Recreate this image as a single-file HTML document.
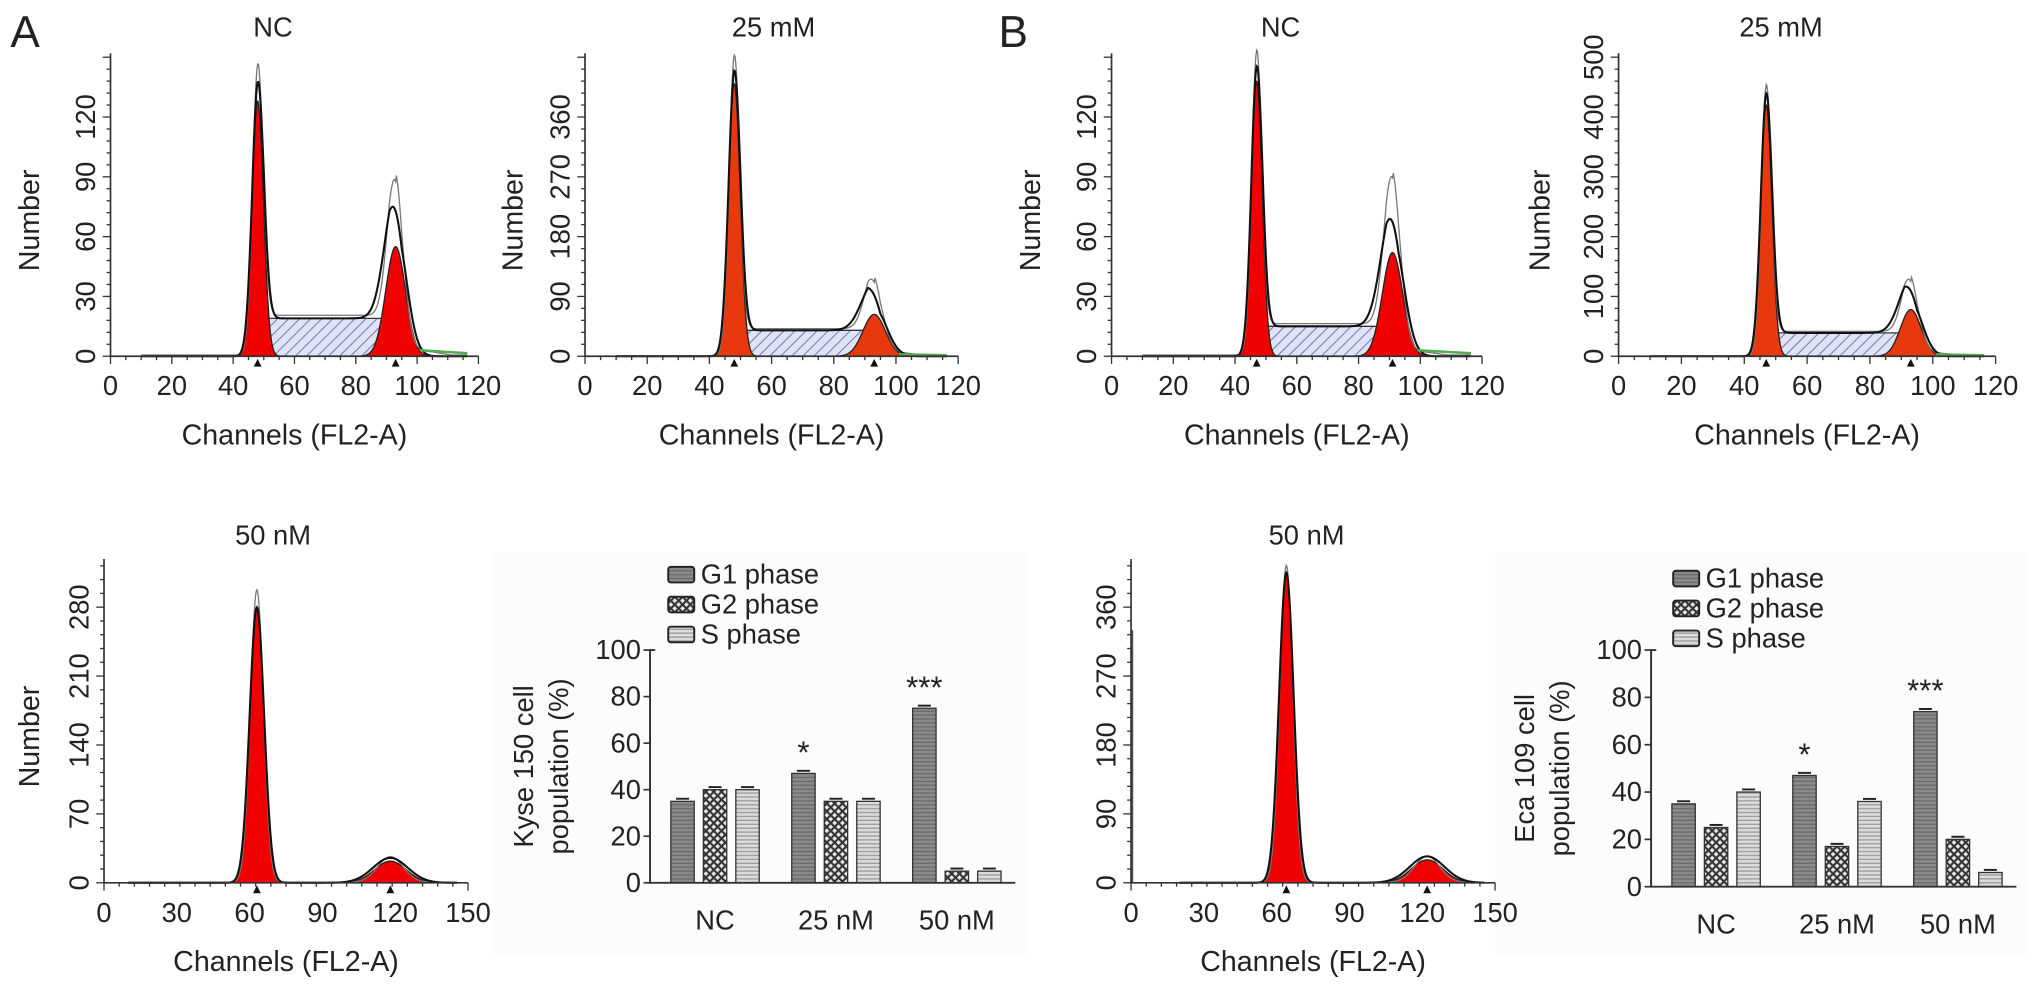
<!DOCTYPE html>
<html><head><meta charset="utf-8"><style>
html,body{margin:0;padding:0;background:#fff}
svg{display:block}
text{font-family:"Liberation Sans",Arial,sans-serif;fill:#222}
</style></head><body>
<svg id="fig" width="2032" height="992" viewBox="0 0 1563 763" preserveAspectRatio="none" xmlns="http://www.w3.org/2000/svg">
<defs>
<pattern id="hatchS" width="6" height="6" patternUnits="userSpaceOnUse" patternTransform="rotate(45)"><rect width="6" height="6" fill="#dfe3f5"/><line x1="0" y1="0" x2="0" y2="6" stroke="#5a64b0" stroke-width="1.3"/></pattern>
<pattern id="pG1" width="4" height="3" patternUnits="userSpaceOnUse"><rect width="4" height="3" fill="#8a8a8a"/><line x1="0" y1="1" x2="4" y2="1" stroke="#6a6a6a" stroke-width="1"/></pattern>
<pattern id="pG2" width="6" height="6" patternUnits="userSpaceOnUse"><rect width="6" height="6" fill="#e8e8e8"/><path d="M0,0L6,6M6,0L0,6" stroke="#333" stroke-width="1.6"/></pattern>
<pattern id="pS" width="4" height="3" patternUnits="userSpaceOnUse"><rect width="4" height="3" fill="#dcdcdc"/><line x1="0" y1="1" x2="4" y2="1" stroke="#9a9a9a" stroke-width="1"/></pattern>
</defs>
<rect x="380" y="425" width="410" height="310" fill="#fcfcfc"/>
<rect x="1150" y="425" width="410" height="310" fill="#fcfcfc"/>
<text x="8" y="36" font-size="34">A</text>
<text x="768" y="36" font-size="34">B</text>
<g id="root"></g>
</svg>
<script>
// ---- histogram data: [mu, height, sigma] in data units ----
const hA_NC_g1=[48,128,1.9], hA_NC_g2=[93,55,3.2], hA_NC_s=19, hA_NC_raw=[136,77];
const hA_25_g1=[48,410,1.9], hA_25_g2=[93,63,3.6], hA_25_s=39, hA_25_raw=[432,90];
const hB_NC_g1=[47,138,1.8], hB_NC_g2=[91,52,3.3], hB_NC_s=15, hB_NC_raw=[145,81];
const hB_25_g1=[47,420,1.8], hB_25_g2=[93,78,3.3], hB_25_s=39, hB_25_raw=[433,104];
const hA_50_g1=[63,280,3.0], hA_50_g2=[118,22,6.5], hA_50_s=0, hA_50_raw=[297,26];
const hB_50_g1=[64,405,3.0], hB_50_g2=[122,30,6.5], hB_50_s=0, hB_50_raw=[414,34];
// ---- bar chart data ----
const barCats=["NC","25 nM","50 nM"];
const barSeries=["G1 phase","G2 phase","S phase"];
const kyseG1=[35,47,75], kyseG2=[40,35,5], kyseS=[40,35,5];
const ecaG1=[35,47,74], ecaG2=[25,17,20], ecaS=[40,36,6];
const barTicks=[0,20,40,60,80,100];
const kyseStars=["","*","***"], ecaStars=["","*","***"];

const NS="http://www.w3.org/2000/svg";
const root=document.getElementById('root');
function el(tag,attrs,parent){const e=document.createElementNS(NS,tag);for(const k in attrs)e.setAttribute(k,attrs[k]);(parent||root).appendChild(e);return e;}
function txt(s,x,y,size,anchor,parent,rot){const t=el('text',{x:x,y:y,'font-size':size,'text-anchor':anchor||'middle'},parent);if(rot)t.setAttribute('transform','rotate(-90 '+x+' '+y+')');t.textContent=s;return t;}
function gauss(c,p){return p[1]*Math.exp(-0.5*Math.pow((c-p[0])/p[2],2));}

function hist(cfg){
  const g=el('g',{});
  
  
  const X=c=>cfg.x0+c*(cfg.x1-cfg.x0)/cfg.xmax;
  const Y=v=>cfg.y0-v*cfg.pxPer/cfg.ystep;
  const g1=cfg.g1,g2=cfg.g2,s=cfg.s;
  const sfun=c=>{if(!s)return 0;if(c<g1[0]-2||c>g2[0]+2)return 0;
    let v=s; if(c<g1[0]+2)v*= (c-(g1[0]-2))/4; if(c>g2[0]-2)v*=(g2[0]+2-c)/4; return Math.max(0,v);};
  const step=0.25;
  if(s){let d='M'+X(g1[0]-2)+','+Y(0);for(let c=g1[0]-2;c<=g2[0]+2;c+=step)d+='L'+X(c)+','+Y(sfun(c));d+='L'+X(g2[0]+2)+','+Y(0)+'Z';
    const p=el('path',{d:d,fill:'url(#hatchS)',stroke:'#333','stroke-width':1},g);}
  [[g1,'g1-peak',cfg.c1],[g2,'g2-peak',cfg.c2]].forEach(([p,n,col])=>{
    let d='M'+X(p[0]-4*p[2])+','+Y(0);for(let c=p[0]-4*p[2];c<=p[0]+4*p[2];c+=step/2)d+='L'+X(c)+','+Y(gauss(c,p));d+='L'+X(p[0]+4*p[2])+','+Y(0)+'Z';
    const e=el('path',{d:d,fill:col,stroke:'#222','stroke-width':1},g);
    const m=el('path',{d:'M'+(X(p[0])-3)+','+(cfg.y0+8)+'L'+(X(p[0])+3)+','+(cfg.y0+8)+'L'+X(p[0])+','+(cfg.y0+2)+'Z',fill:'#111'},g);
  });
  const r1=[g1[0],cfg.raw[0],g1[2]*0.9],r2=[g2[0],cfg.raw[1],g2[2]*0.8];
  let d='';for(let c=cfg.rawStart;c<=cfg.xmax*0.97;c+=step){const v=gauss(c,r1)+gauss(c,r2)+sfun(c)*1.05+(c>g2[0]&&s?s*0.25*Math.max(0,1-(c-g2[0])/18):0)+0.6;d+=(d?'L':'M')+X(c)+','+Y(v);}
  const rl=el('path',{d:d,fill:'none',stroke:'#777','stroke-width':1},g);
  d='';for(let c=cfg.rawStart;c<=cfg.xmax*0.97;c+=step){const v=gauss(c,g1)+gauss(c,[g2[0],g2[1]*1.15,g2[2]*1.1])+sfun(c);d+=(d?'L':'M')+X(c)+','+Y(v);}
  const fl=el('path',{d:d,fill:'none',stroke:'#111','stroke-width':1.6},g);
  if(s){const gl=el('path',{d:'M'+X(g2[0]+8)+','+Y(3)+'L'+X(cfg.xmax*0.97)+','+Y(1.5),stroke:'#5a5',fill:'none','stroke-width':2},g);}
  if(cfg.spike){const sp=el('line',{x1:X(0.5),x2:X(0.5),y1:cfg.y0,y2:Y(cfg.spike),stroke:'#555','stroke-width':1.5},g);}
  const ax=el('path',{d:'M'+cfg.x0+','+cfg.yTop+'L'+cfg.x0+','+cfg.y0+'L'+cfg.x1+','+cfg.y0,stroke:'#333',fill:'none','stroke-width':1.3},g);
  for(let c=0;c<=cfg.xmax;c+=cfg.xmax/24){const mj=Math.abs((c/cfg.xstep)-Math.round(c/cfg.xstep))<1e-6;el('line',{x1:X(c),x2:X(c),y1:cfg.y0,y2:cfg.y0+(mj?6:3),stroke:'#333','stroke-width':1},g);}
  for(let c=0;c<=cfg.xmax;c+=cfg.xstep){const t=txt(String(c),X(c),cfg.y0+30,21,'middle',g);}
  const ymaxPx=cfg.y0-cfg.yTop;
  for(let p=0;p<=ymaxPx;p+=cfg.pxPer/5){const mj=Math.abs(p/cfg.pxPer-Math.round(p/cfg.pxPer))<1e-6;el('line',{x1:cfg.x0,x2:cfg.x0-(mj?6:3),y1:cfg.y0-p,y2:cfg.y0-p,stroke:'#333','stroke-width':1},g);}
  for(let v=0;v<=cfg.ymaxLabel;v+=cfg.ystep){const t=txt(String(v),cfg.x0-12,Y(v),21,'middle',g,true);}
  const tt=txt(cfg.title,cfg.titleX,cfg.titleY,21,'middle',g);
  const xl=txt('Channels (FL2-A)',(cfg.x0+cfg.x1)/2,cfg.y0+68,22,'middle',g);
  if(cfg.ylab!==null){const yl=txt('Number',cfg.ylab,(cfg.y0+cfg.yTop)/2+12,22,'middle',g,true);}
}
const R='#f00000', O='#e8380e';
hist({name:'hist-a-nc',x0:85,x1:368,y0:274,yTop:41,xmax:120,xstep:20,ystep:30,ymaxLabel:120,pxPer:46,g1:hA_NC_g1,g2:hA_NC_g2,s:hA_NC_s,raw:hA_NC_raw,c1:R,c2:R,title:'NC',titleX:210,titleY:28,ylab:30,rawStart:10});
hist({name:'hist-a-25mm',x0:450,x1:737,y0:274,yTop:41,xmax:120,xstep:20,ystep:90,ymaxLabel:360,pxPer:46,g1:hA_25_g1,g2:hA_25_g2,s:hA_25_s,raw:hA_25_raw,c1:O,c2:O,title:'25 mM',titleX:595,titleY:28,ylab:402,rawStart:10});
hist({name:'hist-b-nc',x0:855,x1:1140,y0:274,yTop:41,xmax:120,xstep:20,ystep:30,ymaxLabel:120,pxPer:46,g1:hB_NC_g1,g2:hB_NC_g2,s:hB_NC_s,raw:hB_NC_raw,c1:R,c2:R,title:'NC',titleX:985,titleY:28,ylab:800,rawStart:10});
hist({name:'hist-b-25mm',x0:1245,x1:1535,y0:274,yTop:41,xmax:120,xstep:20,ystep:100,ymaxLabel:500,pxPer:46,g1:hB_25_g1,g2:hB_25_g2,s:hB_25_s,raw:hB_25_raw,c1:O,c2:O,title:'25 mM',titleX:1370,titleY:28,ylab:1192,rawStart:10});
hist({name:'hist-a-50nm',x0:80,x1:360,y0:679,yTop:430,xmax:150,xstep:30,ystep:70,ymaxLabel:280,pxPer:53,g1:hA_50_g1,g2:hA_50_g2,s:hA_50_s,raw:hA_50_raw,c1:R,c2:R,title:'50 nM',titleX:210,titleY:419,ylab:30,rawStart:10});
hist({name:'hist-b-50nm',x0:870,x1:1150,y0:679,yTop:430,xmax:150,xstep:30,ystep:90,ymaxLabel:360,pxPer:53,g1:hB_50_g1,g2:hB_50_g2,s:hB_50_s,raw:hB_50_raw,c1:R,c2:R,title:'50 nM',titleX:1005,titleY:419,ylab:null,rawStart:20,spike:330});

function bars(cfg){
  const g=el('g',{});
  
  
  const Y=v=>cfg.y0-v*(cfg.y0-cfg.y100)/100;
  const series=[cfg.g1,cfg.g2,cfg.s], fills=['url(#pG1)','url(#pG2)','url(#pS)'];
  const bw=18, gap=25, gw=93;
  barCats.forEach((cat,i)=>{
    const cx=cfg.cx0+i*gw;
    series.forEach((arr,j)=>{
      const x=cx+(j-1)*gap-bw/2;
      const b=el('rect',{x:x,y:Y(arr[i]),width:bw,height:cfg.y0-Y(arr[i]),fill:fills[j],stroke:'#333','stroke-width':1},g);
      
      
      el('path',{d:'M'+(x+4)+','+(Y(arr[i])-2)+'L'+(x+bw-4)+','+(Y(arr[i])-2),stroke:'#222','stroke-width':1.5},g);
    });
    const t=txt(cat,cx,cfg.y0+36,21,'middle',g);
    if(cfg.stars[i]){const st=txt(cfg.stars[i],cx-gap,Y(cfg.g1[i])-8,24,'middle',g);}
  });
  const ax=el('path',{d:'M'+(cfg.x0+4)+','+cfg.y100+'L'+cfg.x0+','+cfg.y100+'L'+cfg.x0+','+cfg.y0+'L'+(cfg.cx0+2*gw+45)+','+cfg.y0,stroke:'#333',fill:'none','stroke-width':1.5},g);
  
  barTicks.forEach(v=>{el('line',{x1:cfg.x0-5,x2:cfg.x0,y1:Y(v),y2:Y(v),stroke:'#333','stroke-width':1.3},g);const t=txt(String(v),cfg.x0-7,Y(v)+7,21,'end',g);});
  const l1=txt(cfg.ylab1,cfg.ylx,(cfg.y0+cfg.y100)/2,21,'middle',g,true);
  const l2=txt('population (%)',cfg.ylx+27,(cfg.y0+cfg.y100)/2,21,'middle',g,true);
  barSeries.forEach((n,j)=>{
    const ly=cfg.legY+j*23;
    const r=el('rect',{x:cfg.legX,y:ly-8,width:20,height:12,fill:fills[j],stroke:'#222','stroke-width':1.5,rx:2},g);
    
    const t=txt(n,cfg.legX+25,ly+5,21,'start',g);
  });
}
bars({name:'bar-chart-kyse150',x0:500,y0:679,y100:500,cx0:550,g1:kyseG1,g2:kyseG2,s:kyseS,stars:kyseStars,ylab1:'Kyse 150 cell',ylx:410,legX:514,legY:444});
bars({name:'bar-chart-eca109',x0:1270,y0:682,y100:500,cx0:1320,g1:ecaG1,g2:ecaG2,s:ecaS,stars:ecaStars,ylab1:'Eca 109 cell',ylx:1180,legX:1287,legY:447});
</script>
</body></html>
